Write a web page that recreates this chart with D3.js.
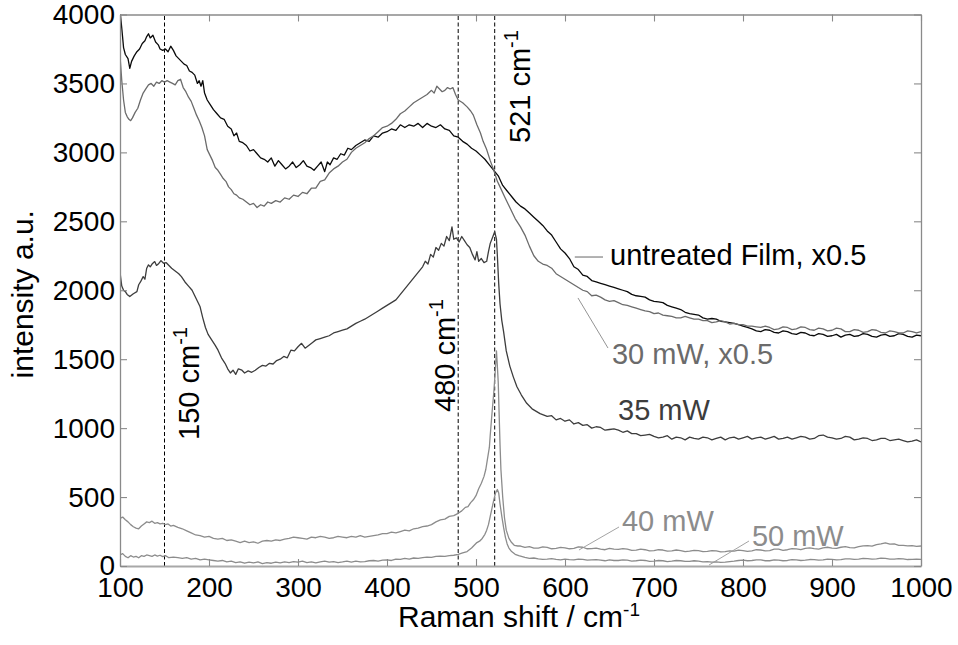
<!DOCTYPE html>
<html>
<head>
<meta charset="utf-8">
<script src="https://cdn.jsdelivr.net/npm/d3@7/dist/d3.min.js"></script>
<style>
  html, body { margin: 0; padding: 0; background: #fff; }
  text { font-family: "Liberation Sans", Arial, sans-serif; }
</style>
</head>
<body>
<div id="container"></div>
<script>
// Raman spectra, [shift cm-1, intensity]
const untreatedFilm = [[100,4030],[102,3900],[104,3760],[106,3710],[109,3680],[111,3610],[113,3660],[116,3700],[119,3730],[122,3750],[125,3790],[128,3810],[130,3840],[132,3860],[134,3830],[137,3850],[140,3800],[143,3780],[145,3750],[148,3740],[151,3750],[154,3730],[157,3770],[160,3740],[163,3700],[166,3680],[169,3660],[172,3640],[175,3630],[178,3590],[181,3580],[184,3560],[187,3500],[189,3520],[191,3480],[193,3520],[195,3430],[198,3380],[201,3350],[205,3310],[209,3280],[213,3250],[217,3240],[221,3190],[225,3170],[228,3120],[231,3140],[234,3080],[238,3070],[242,3050],[246,3010],[250,3020],[254,2990],[258,2960],[262,2950],[266,2930],[270,2960],[274,2900],[278,2940],[282,2910],[286,2880],[290,2900],[294,2930],[298,2890],[302,2910],[306,2940],[310,2900],[314,2890],[318,2870],[322,2900],[326,2930],[330,2860],[333,2930],[336,2910],[340,2960],[344,2950],[348,2990],[352,2980],[356,3030],[360,3020],[365,3050],[370,3070],[375,3090],[380,3080],[385,3120],[390,3110],[395,3140],[400,3150],[405,3170],[410,3160],[415,3200],[420,3180],[425,3200],[430,3190],[435,3210],[440,3180],[445,3210],[450,3190],[455,3180],[460,3200],[465,3170],[470,3160],[475,3120],[480,3110],[485,3080],[490,3060],[495,3030],[500,3010],[505,2980],[510,2950],[515,2910],[520,2870],[525,2830],[530,2760],[535,2720],[540,2680],[545,2640],[550,2610],[555,2590],[560,2560],[565,2530],[570,2500],[575,2470],[580,2430],[585,2400],[590,2350],[595,2300],[600,2270],[605,2230],[610,2170],[615,2150],[620,2110],[625,2100],[630,2070],[635,2060],[640,2050],[645,2040],[650,2030],[655,2020],[660,2010],[665,2000],[670,1990],[675,1970],[680,1960],[685,1955],[690,1950],[695,1930],[700,1920],[705,1915],[710,1910],[715,1890],[720,1880],[725,1870],[730,1860],[735,1840],[740,1830],[745,1825],[750,1820],[755,1800],[760,1790],[765,1795],[770,1790],[775,1775],[780,1770],[785,1765],[790,1760],[795,1750],[800,1740],[805,1730],[810,1720],[815,1705],[820,1700],[825,1715],[830,1710],[835,1695],[840,1690],[845,1705],[850,1700],[855,1685],[860,1680],[865,1695],[870,1690],[875,1675],[880,1670],[885,1685],[890,1680],[895,1665],[900,1670],[905,1680],[910,1660],[915,1675],[920,1680],[925,1665],[930,1670],[935,1685],[940,1680],[945,1665],[950,1660],[955,1675],[960,1680],[965,1665],[970,1670],[975,1685],[980,1680],[985,1665],[990,1660],[995,1675],[1000,1670]];

const mw30 = [[100,3700],[102,3520],[104,3380],[106,3290],[108,3260],[110,3240],[112,3230],[114,3250],[117,3290],[120,3320],[123,3380],[126,3430],[129,3460],[132,3490],[135,3500],[138,3480],[141,3510],[144,3500],[147,3520],[150,3510],[153,3520],[156,3510],[159,3500],[162,3490],[165,3520],[168,3530],[171,3470],[174,3440],[177,3400],[180,3370],[183,3320],[186,3270],[189,3230],[192,3180],[195,3120],[198,3020],[201,2980],[204,2940],[207,2890],[210,2870],[213,2840],[216,2810],[219,2790],[222,2750],[225,2730],[228,2700],[231,2690],[234,2670],[238,2660],[242,2640],[246,2620],[250,2630],[254,2600],[258,2620],[262,2610],[266,2640],[270,2630],[275,2650],[280,2640],[285,2670],[290,2660],[295,2690],[300,2680],[305,2710],[310,2700],[315,2740],[320,2740],[325,2790],[330,2800],[335,2850],[340,2880],[345,2900],[350,2930],[355,2950],[360,3000],[365,3030],[370,3050],[375,3070],[380,3100],[385,3120],[390,3150],[395,3180],[400,3190],[405,3210],[410,3240],[415,3280],[420,3300],[425,3330],[430,3360],[435,3380],[440,3400],[445,3420],[450,3450],[453,3430],[456,3480],[459,3460],[462,3440],[465,3450],[468,3470],[471,3460],[474,3470],[477,3420],[480,3380],[485,3360],[490,3330],[494,3300],[497,3270],[501,3200],[505,3140],[508,3080],[512,3020],[516,2940],[520,2870],[524,2790],[527,2750],[532,2680],[538,2600],[544,2520],[550,2460],[555,2400],[560,2320],[565,2250],[570,2210],[575,2190],[580,2180],[585,2160],[590,2120],[595,2100],[600,2080],[605,2060],[610,2040],[615,2020],[620,2000],[625,1990],[630,1960],[635,1965],[640,1950],[645,1930],[650,1920],[655,1925],[660,1910],[665,1895],[670,1890],[675,1880],[680,1870],[685,1860],[690,1850],[695,1845],[700,1830],[705,1835],[710,1820],[715,1815],[720,1810],[725,1800],[730,1800],[735,1810],[740,1800],[745,1790],[750,1790],[755,1780],[760,1780],[765,1765],[770,1770],[775,1780],[780,1770],[785,1755],[790,1760],[795,1750],[800,1750],[805,1740],[810,1740],[815,1735],[820,1730],[825,1740],[830,1730],[835,1715],[840,1720],[845,1735],[850,1730],[855,1715],[860,1720],[865,1735],[870,1730],[875,1715],[880,1710],[885,1725],[890,1720],[895,1705],[900,1710],[905,1725],[910,1720],[915,1700],[920,1700],[925,1715],[930,1710],[935,1695],[940,1700],[945,1715],[950,1710],[955,1695],[960,1690],[965,1705],[970,1700],[975,1690],[980,1690],[985,1705],[990,1700],[995,1690],[1000,1700]];

const mw35 = [[100,2130],[102,2030],[104,2000],[106,1990],[108,1970],[111,1954],[115,1975],[119,1990],[121,2040],[123,2060],[126,2099],[128,2080],[130,2160],[132,2184],[134,2170],[136,2190],[139,2208],[141,2180],[143,2190],[146,2215],[149,2196],[152,2200],[155,2180],[158,2160],[162,2140],[166,2120],[169,2099],[173,2060],[177,2030],[181,2000],[184,1960],[187,1920],[190,1880],[193,1800],[196,1730],[199,1680],[203,1640],[207,1600],[210,1567],[214,1510],[218,1470],[221,1430],[224,1400],[227,1420],[230,1390],[233,1430],[237,1420],[240,1400],[244,1415],[248,1405],[252,1420],[256,1440],[260,1455],[264,1450],[268,1470],[272,1465],[276,1490],[280,1500],[284,1520],[288,1510],[292,1565],[296,1560],[300,1590],[304,1615],[308,1580],[312,1600],[316,1620],[320,1640],[325,1650],[330,1660],[335,1670],[340,1690],[345,1700],[350,1710],[355,1720],[360,1740],[365,1760],[370,1775],[375,1790],[380,1810],[385,1830],[390,1850],[395,1870],[400,1890],[405,1910],[410,1930],[415,1970],[420,2010],[425,2050],[430,2090],[435,2130],[440,2170],[443,2210],[446,2190],[449,2260],[452,2240],[455,2310],[458,2290],[461,2340],[464,2320],[467,2390],[470,2360],[473,2460],[475,2370],[478,2380],[481,2350],[484,2390],[487,2360],[490,2330],[493,2310],[496,2260],[499,2220],[501,2280],[503,2210],[506,2230],[509,2200],[512,2210],[514,2280],[516,2340],[519,2390],[521,2425],[523,2370],[524,2250],[525.5,2050],[527,1900],[529,1780],[531,1700],[534,1560],[538,1450],[542,1370],[546,1300],[551,1240],[557,1180],[563,1140],[572,1105],[580,1085],[585,1090],[590,1060],[595,1070],[600,1050],[605,1060],[610,1030],[615,1040],[620,1020],[625,1025],[630,1000],[635,1010],[640,1005],[645,985],[650,990],[655,995],[660,985],[665,970],[670,980],[675,960],[680,960],[685,945],[690,950],[695,955],[700,940],[705,930],[710,935],[715,945],[720,920],[725,935],[730,930],[735,915],[740,935],[745,925],[750,920],[755,935],[760,930],[765,915],[770,925],[775,935],[780,915],[785,930],[790,935],[795,920],[800,930],[805,940],[810,920],[815,930],[820,935],[825,920],[830,930],[835,940],[840,920],[845,925],[850,935],[855,920],[860,930],[865,940],[870,935],[875,920],[880,925],[885,945],[890,950],[895,935],[900,930],[905,920],[910,925],[915,940],[920,935],[925,915],[930,920],[935,930],[940,925],[945,910],[950,915],[955,925],[960,925],[965,910],[970,915],[975,920],[980,910],[985,900],[990,905],[995,915],[1000,900]];

const mw40 = [[100,346],[103,355],[106,335],[109,320],[112,300],[115,285],[118,275],[121,270],[124,290],[127,305],[130,320],[133,315],[136,325],[139,310],[142,315],[145,305],[148,310],[151,300],[154,305],[157,290],[160,295],[165,280],[170,270],[175,255],[180,240],[185,225],[190,220],[195,210],[200,215],[205,200],[210,195],[215,200],[220,185],[225,190],[230,180],[235,170],[240,180],[245,170],[250,175],[255,165],[260,180],[265,185],[270,180],[275,190],[280,185],[285,195],[290,200],[295,210],[300,205],[305,200],[310,195],[315,210],[320,205],[325,215],[330,210],[335,200],[340,205],[345,215],[350,210],[355,205],[360,215],[365,210],[370,220],[375,210],[380,215],[385,220],[390,225],[395,235],[400,235],[405,245],[410,240],[415,250],[420,260],[425,255],[430,270],[435,275],[440,285],[445,290],[450,300],[455,320],[460,335],[465,340],[470,360],[475,365],[480,382],[484,400],[488,425],[491,430],[494,460],[497,480],[500,510],[503,560],[506,600],[509,650],[511,700],[513,780],[515,860],[516,950],[518,1110],[520,1260],[521.5,1400],[523,1560],[524,1450],[525,1330],[526,1100],[527,880],[528,700],[530,500],[532,350],[534,260],[537,200],[540,170],[543,150],[547,145],[550,145],[555,135],[560,140],[565,130],[570,130],[575,138],[580,135],[585,125],[590,128],[595,135],[600,132],[605,125],[610,128],[615,138],[620,136],[625,125],[630,126],[635,130],[640,122],[645,118],[650,128],[655,122],[660,120],[665,126],[670,122],[675,114],[680,115],[685,122],[690,118],[695,110],[700,112],[705,118],[710,116],[715,108],[720,110],[725,116],[730,112],[735,104],[740,108],[745,114],[750,112],[755,104],[760,106],[765,112],[770,110],[775,102],[780,104],[785,110],[790,108],[795,115],[800,112],[805,106],[810,110],[815,118],[820,116],[825,110],[830,112],[835,122],[840,122],[845,114],[850,118],[855,126],[860,124],[865,118],[870,128],[875,132],[880,126],[885,122],[890,132],[895,136],[900,130],[905,128],[910,136],[915,140],[920,134],[925,132],[930,140],[935,146],[940,148],[945,144],[950,155],[955,160],[960,168],[965,158],[970,160],[975,150],[980,150],[985,146],[990,148],[995,142],[1000,145]];

const mw50 = [[100,80],[103,90],[106,70],[109,60],[112,75],[115,65],[118,70],[121,60],[124,75],[127,70],[130,80],[133,75],[136,70],[139,80],[142,72],[145,78],[148,68],[151,75],[155,60],[160,65],[165,60],[170,55],[175,60],[180,50],[185,55],[190,45],[195,50],[200,45],[205,40],[210,35],[215,40],[220,30],[225,35],[230,25],[235,30],[240,20],[245,28],[250,22],[255,30],[260,18],[265,25],[270,20],[275,28],[280,22],[285,30],[290,25],[295,32],[300,28],[305,35],[310,25],[315,30],[320,22],[325,30],[330,35],[335,28],[340,32],[345,25],[350,30],[355,36],[360,28],[365,35],[370,30],[375,32],[380,38],[385,40],[390,35],[395,42],[400,45],[405,40],[410,50],[415,48],[420,55],[425,50],[430,58],[435,55],[440,60],[445,65],[450,62],[455,70],[460,72],[465,70],[470,75],[475,78],[480,85],[485,95],[490,105],[495,130],[498,150],[501,170],[504,180],[507,200],[510,230],[512,260],[514,300],[516,360],[518,420],[520,480],[522,530],[524,555],[525.5,530],[527,450],[529,360],[531,280],[533,210],[535,160],[537,130],[540,105],[544,85],[548,75],[555,62],[560,55],[565,58],[570,52],[575,48],[580,50],[585,54],[590,48],[595,44],[600,50],[605,46],[610,45],[615,50],[620,48],[625,42],[630,44],[635,46],[640,42],[645,38],[650,45],[655,40],[660,40],[665,44],[670,42],[675,36],[680,38],[685,42],[690,40],[695,34],[700,36],[705,40],[710,38],[715,32],[720,35],[725,40],[730,38],[735,33],[740,34],[745,38],[750,36],[755,30],[760,32],[765,28],[770,30],[775,26],[780,28],[785,32],[790,35],[795,40],[800,42],[805,38],[810,40],[815,45],[820,44],[825,38],[830,38],[835,44],[840,42],[845,38],[850,40],[855,46],[860,44],[865,40],[870,42],[875,47],[880,46],[885,42],[890,44],[895,50],[900,48],[905,44],[910,46],[915,52],[920,52],[925,48],[930,50],[935,55],[940,54],[945,50],[950,52],[955,57],[960,55],[965,50],[970,50],[975,54],[980,52],[985,47],[990,48],[995,50],[1000,48]];

const xTicks = [100, 200, 300, 400, 500, 600, 700, 800, 900, 1000];
const yTicks = [0, 500, 1000, 1500, 2000, 2500, 3000, 3500, 4000];
const markerLines = [150, 480, 521];

const width = 958;
const height = 645;
const margin = {top: 14.5, right: 37, bottom: 79, left: 120};

const x = d3.scaleLinear().domain([100, 1000]).range([margin.left, width - margin.right]);
const y = d3.scaleLinear().domain([0, 4000]).range([height - margin.bottom, margin.top]);

const svg = d3.select("#container").append("svg")
    .attr("width", width)
    .attr("height", height);

svg.append("clipPath").attr("id", "plot")
  .append("rect")
    .attr("x", margin.left).attr("y", margin.top)
    .attr("width", x(1000) - x(100)).attr("height", y(0) - y(4000));

// dashed marker lines
svg.append("g").selectAll("line")
  .data(markerLines)
  .enter().append("line")
    .attr("x1", d => x(d)).attr("x2", d => x(d))
    .attr("y1", y(0)).attr("y2", y(4000))
    .attr("stroke", "#000")
    .attr("stroke-width", 1)
    .attr("stroke-dasharray", "4,2.5");

const series = [
  {name: "untreated", data: untreatedFilm, color: "#0a0a0a"},
  {name: "30", data: mw30, color: "#6b6b6b"},
  {name: "35", data: mw35, color: "#3d3d3d"},
  {name: "40", data: mw40, color: "#8c8c8c"},
  {name: "50", data: mw50, color: "#8c8c8c"}
];

const line = d3.line().x(d => x(d[0])).y(d => y(d[1]));

svg.append("g").attr("clip-path", "url(#plot)")
  .selectAll("path")
  .data(series)
  .enter().append("path")
    .attr("fill", "none")
    .attr("stroke", d => d.color)
    .attr("stroke-width", 1.3)
    .attr("stroke-linejoin", "round")
    .attr("d", d => line(d.data));

// axes, ticks pointing inward
const axisColor = "#8a8a8a";
const tickFont = 28;
const labelFont = 29;

const gx = svg.append("g")
    .attr("transform", `translate(0,${y(0)})`)
    .call(d3.axisBottom(x).tickValues(xTicks).tickFormat(d3.format("d"))
      .tickSize(-7).tickSizeOuter(0).tickPadding(11));
const gy = svg.append("g")
    .attr("transform", `translate(${x(100)},0)`)
    .call(d3.axisLeft(y).tickValues(yTicks).tickFormat(d3.format("d"))
      .tickSize(-7).tickSizeOuter(0).tickPadding(5));
const gt = svg.append("g")
    .attr("transform", `translate(0,${y(4000)})`)
    .call(d3.axisTop(x).tickValues(xTicks).tickSize(-7).tickSizeOuter(0).tickFormat(""));
const gr = svg.append("g")
    .attr("transform", `translate(${x(1000)},0)`)
    .call(d3.axisRight(y).tickValues(yTicks).tickSize(-7).tickSizeOuter(0).tickFormat(""));

[gx, gy, gt, gr].forEach(g => {
  g.select(".domain").attr("stroke", axisColor).attr("stroke-width", 1.3);
  g.selectAll(".tick line").attr("stroke", axisColor).attr("stroke-width", 1.1);
  g.selectAll(".tick text")
    .attr("fill", "#000")
    .attr("font-size", tickFont)
    .attr("font-family", '"Liberation Sans", Arial, sans-serif');
});
gx.select(".domain").attr("stroke", "#a8a8a8").attr("stroke-width", 2);

// axis titles
const xt = svg.append("text")
    .attr("x", 398).attr("y", 627)
    .attr("font-size", 30)
    .attr("fill", "#000");
xt.append("tspan").text("Raman shift / cm");
xt.append("tspan").attr("dy", -11).attr("font-size", 19).text("-1");

svg.append("text")
    .attr("transform", `translate(33,${(y(0) + y(4000)) / 2 + 4}) rotate(-90)`)
    .attr("text-anchor", "middle")
    .attr("font-size", 30)
    .attr("fill", "#000")
    .text("intensity a.u.");

// rotated peak labels
const peakLabels = [
  {label: "150 cm", at: [188.8, 914]},
  {label: "480 cm", at: [476.4, 1117]},
  {label: "521 cm", at: [560.7, 3068]}
];
peakLabels.forEach(p => {
  const t = svg.append("text")
      .attr("transform", `translate(${x(p.at[0])},${y(p.at[1])}) rotate(-90)`)
      .attr("font-size", 29)
      .attr("fill", "#000");
  t.append("tspan").text(p.label);
  t.append("tspan").attr("dy", -12).attr("font-size", 20).text("-1");
});

// series labels with leader lines (data coordinates)
const seriesLabels = [
  {text: "untreated Film, x0.5", color: "#000", at: [650.6, 2183], lead: [[611, 2241], [642.7, 2241]], leadColor: "#555"},
  {text: "30 mW, x0.5", color: "#6b6b6b", at: [652.8, 1465], lead: [[614.6, 1944], [648.3, 1581]], leadColor: "#888"},
  {text: "35 mW", color: "#3d3d3d", at: [659.6, 1059], lead: null},
  {text: "40 mW", color: "#8c8c8c", at: [664, 254], lead: [[615.7, 116], [660.7, 283]], leadColor: "#999"},
  {text: "50 mW", color: "#8c8c8c", at: [810, 145], lead: [[761.8, 7], [806.7, 181]], leadColor: "#999"}
];

seriesLabels.forEach(s => {
  if (s.lead) {
    svg.append("line")
      .attr("x1", x(s.lead[0][0])).attr("y1", y(s.lead[0][1]))
      .attr("x2", x(s.lead[1][0])).attr("y2", y(s.lead[1][1]))
      .attr("stroke", s.leadColor)
      .attr("stroke-width", 0.9);
  }
  svg.append("text")
    .attr("x", x(s.at[0])).attr("y", y(s.at[1]))
    .attr("font-size", labelFont)
    .attr("fill", s.color)
    .text(s.text);
});
</script>
</body>
</html>
